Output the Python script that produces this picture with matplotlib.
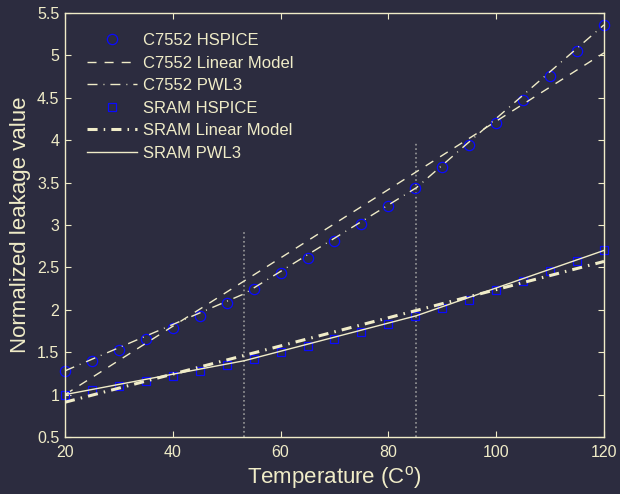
#!/usr/bin/env python3
"""Normalized leakage vs temperature: HSPICE points, linear and PWL3 models."""

import matplotlib

matplotlib.use("Agg")

import matplotlib.pyplot as plt
from matplotlib.ticker import FormatStrFormatter

# HSPICE samples
temps = [20, 25, 30, 35, 40, 45, 50, 55, 60, 65, 70, 75, 80, 85, 90, 95, 100, 105, 110, 115, 120]
c7552_hspice = [1.28, 1.40, 1.52, 1.65, 1.79, 1.93, 2.08, 2.25, 2.43, 2.61, 2.81,
                3.01, 3.22, 3.44, 3.68, 3.94, 4.20, 4.47, 4.76, 5.05, 5.36]
sram_hspice = [1.00, 1.05, 1.10, 1.16, 1.22, 1.28, 1.35, 1.42, 1.50, 1.57, 1.65,
               1.74, 1.83, 1.93, 2.02, 2.12, 2.23, 2.34, 2.46, 2.58, 2.70]

# linear models (end points)
lin_temps = [20, 120]
c7552_linear = [1.00, 5.03]
sram_linear = [0.91, 2.57]

# 3-piece PWL models
pwl_temps = [20, 53.3, 85.2, 120]
c7552_pwl3 = [1.28, 2.19, 3.44, 5.36]
sram_pwl3 = [1.00, 1.40, 1.93, 2.70]

# breakpoint markers
break_temps = [53.3, 85.2]
break_tops = [2.93, 3.98]

BG = "#2c2c3f"
FG = "#f0ecc8"
BLUE = "#0a0aff"

plt.rcParams["font.family"] = ["Liberation Sans", "DejaVu Sans"]
plt.rcParams["mathtext.fontset"] = "custom"
plt.rcParams["mathtext.rm"] = "Liberation Sans"
plt.rcParams["mathtext.it"] = "Liberation Sans:italic"

fig = plt.figure(figsize=(6.2, 4.94), dpi=100, facecolor=BG)
ax = fig.add_axes([0.1048, 0.1154, 0.8694, 0.8583], facecolor=BG)

for t, top in zip(break_temps, break_tops):
    ax.plot([t, t], [0.5, top], linestyle=":", color="#9a9a9a", linewidth=1.2)

ax.plot(temps, c7552_hspice, linestyle="none", marker="o", markersize=7.4, clip_on=False,
        markerfacecolor="none", markeredgecolor=BLUE, markeredgewidth=0.9, label="C7552 HSPICE")
ax.plot(lin_temps, c7552_linear, color=FG, linewidth=1.0, dashes=(6.5, 5.8), label="C7552 Linear Model")
ax.plot(pwl_temps, c7552_pwl3, color=FG, linewidth=1.0, dashes=(7.2, 4.3, 0.7, 4.3), label="C7552 PWL3")
ax.plot(temps, sram_hspice, linestyle="none", marker="s", markersize=6.2, clip_on=False,
        markerfacecolor="none", markeredgecolor=BLUE, markeredgewidth=0.9, label="SRAM HSPICE")
ax.plot(lin_temps, sram_linear, color=FG, linewidth=2.2, dashes=(3.3, 2.0, 0.5, 2.0), label="SRAM Linear Model")
ax.plot(pwl_temps, sram_pwl3, color=FG, linewidth=1.0, linestyle="-", label="SRAM PWL3")

ax.set_xlim(20, 120)
ax.set_ylim(0.5, 5.5)
ax.set_xticks([20, 40, 60, 80, 100, 120])
ax.set_yticks([0.5, 1, 1.5, 2, 2.5, 3, 3.5, 4, 4.5, 5, 5.5])
ax.yaxis.set_major_formatter(FormatStrFormatter("%g"))

for spine in ax.spines.values():
    spine.set_color(FG)
    spine.set_linewidth(1.0)
ax.tick_params(direction="in", length=4, width=0.8, colors=FG, labelsize=11.5,
               top=True, right=True)
ax.tick_params(axis="x", pad=6)
ax.tick_params(axis="y", pad=4)

ax.set_xlabel("Temperature (C$^\\mathrm{o}$)", fontsize=16, color=FG, labelpad=3)
ax.set_ylabel("Normalized leakage value", fontsize=16, color=FG, labelpad=4)

leg = ax.legend(loc="upper left", bbox_to_anchor=(0.0165, 0.9835), frameon=False, fontsize=12,
                handlelength=3.0, handletextpad=0.36, labelspacing=0.45, numpoints=1,
                borderaxespad=0.4)
for text in leg.get_texts():
    text.set_color(FG)

fig.savefig("out.png", dpi=100, facecolor=BG)
